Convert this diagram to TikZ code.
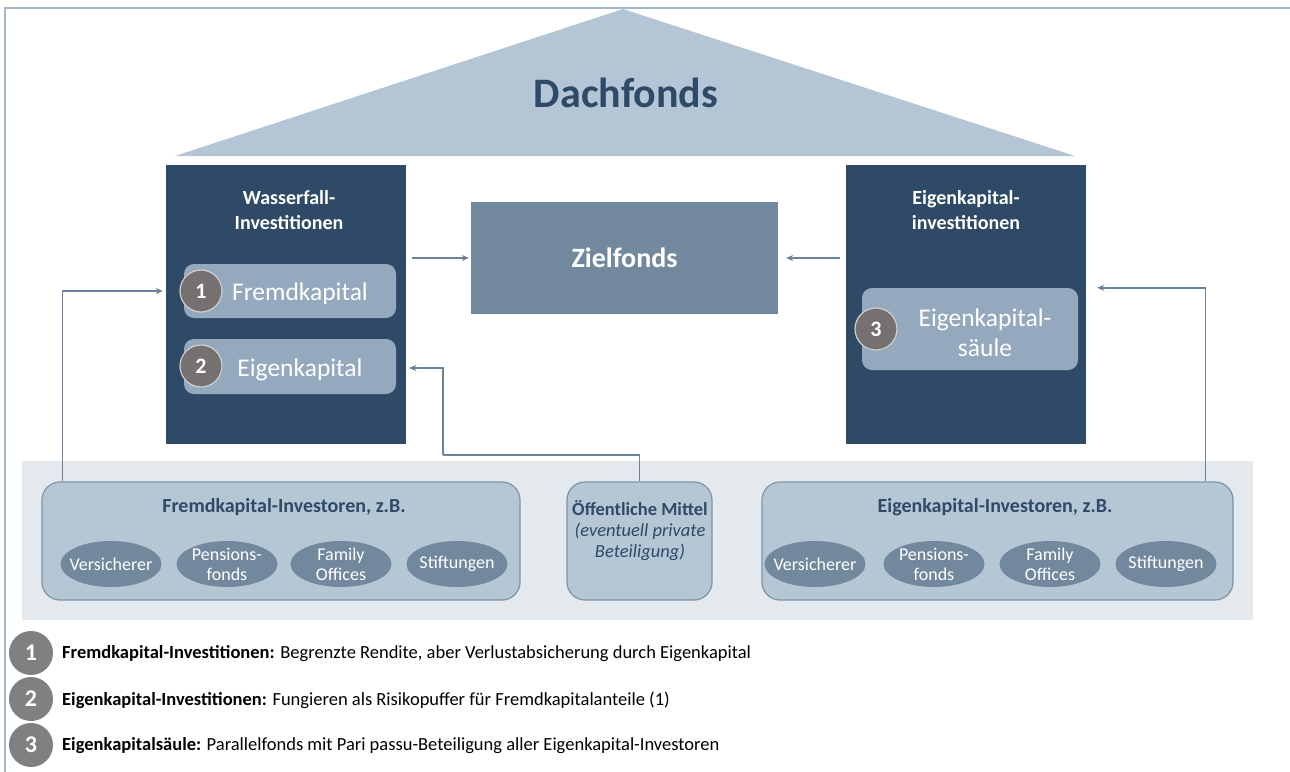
\documentclass[tikz,border=0pt]{standalone}
\usepackage{fontspec}
\setmainfont{Carlito}
\usetikzlibrary{shapes.geometric,arrows.meta,calc}
\definecolor{navy}{HTML}{2E4A66}
\definecolor{roof}{HTML}{B4C6D6}
\definecolor{pill}{HTML}{94A9BD}
\definecolor{ziel}{HTML}{72899D}
\definecolor{band}{HTML}{E4E9EE}
\definecolor{invfill}{HTML}{B5C6D5}
\definecolor{invdraw}{HTML}{7D93A8}
\definecolor{conncol}{HTML}{6B8399}
\definecolor{badgecol}{HTML}{767171}
\definecolor{badgeedge}{HTML}{D0CECE}
\definecolor{legcol}{HTML}{808080}
\definecolor{framecol}{HTML}{A5B6C8}
\tikzset{
  darkbox/.style={fill=navy, draw=none, inner sep=0pt},
  boxtitle/.style={text=white, font=\fontsize{20}{25}\selectfont\bfseries, align=center, inner sep=0pt},
  pillbox/.style={fill=pill, rounded corners=10pt, inner sep=0pt},
  pilltext/.style={text=white, font=\fontsize{25.5}{30}\selectfont, align=center, inner sep=0pt},
  badge/.style={circle, fill=badgecol, draw=badgeedge, line width=1.2pt, minimum size=42pt, inner sep=0pt, text=white, font=\fontsize{22}{22}\selectfont\bfseries},
  conn/.style={draw=conncol, line width=1.6pt, -{Stealth[length=7pt,width=6pt]}},
  connline/.style={draw=conncol, line width=1.6pt},
  invbox/.style={fill=invfill, draw=invdraw, line width=1.2pt, rounded corners=18pt, inner sep=0pt},
  invtitle/.style={text=navy, font=\fontsize{20}{22}\selectfont\bfseries, inner sep=0pt},
  oval/.style={ellipse, fill=ziel, draw=none, minimum width=101pt, minimum height=46pt, inner sep=0pt},
  ovaltext/.style={inner sep=0pt, text=white, align=center, font=\fontsize{18}{20}\selectfont},
  legcircle/.style={circle, fill=legcol, minimum size=44pt, inner sep=0pt, text=white, font=\fontsize{24}{24}\selectfont\bfseries},
  legtext/.style={anchor=west, inner sep=0pt, font=\fontsize{18.5}{20}\selectfont}
}
\begin{document}
\begin{tikzpicture}[x=1pt,y=-1pt]
\useasboundingbox (0,0) rectangle (1290,771);
% frame
\draw[framecol, line width=2pt] (5,775) -- (5,8) -- (1295,8);
% roof
\fill[roof] (175,156) -- (623,9) -- (1075,156) -- cycle;
\node[text=navy, font=\fontsize{42}{42}\selectfont\bfseries, inner sep=0pt] (dach) at (626,93) {Dachfonds};
% bottom band
\fill[band] (22,461) rectangle (1253,620);
% left column
\node[darkbox, minimum width=240pt, minimum height=279pt] (left) at (286,304.5) {};
\node[boxtitle] (lefttitle) at (289,210) {Wasserfall-\\Investitionen};
\node[pillbox, minimum width=212pt, minimum height=54pt] (fk) at (290,291) {};
\node[pilltext] (fktext) at (300,293.5) {Fremdkapital};
\node[badge] (b1) at (201,291) {1};
\node[pillbox, minimum width=212pt, minimum height=55pt] (ek) at (290,366.5) {};
\node[pilltext] (ektext) at (300,370) {Eigenkapital};
\node[badge] (b2) at (201,366) {2};
% Zielfonds
\node[fill=ziel, minimum width=307pt, minimum height=112pt, inner sep=0pt, text=white, font=\fontsize{28}{28}\selectfont\bfseries] (ziel) at (624.5,258) {Zielfonds};
% right column
\node[darkbox, minimum width=240pt, minimum height=279pt] (right) at (966,304.5) {};
\node[boxtitle] (righttitle) at (966,210) {Eigenkapital-\\investitionen};
\node[pillbox, minimum width=216pt, minimum height=82pt] (eks) at (970,329) {};
\node[pilltext] (ekstext) at (985,333) {Eigenkapital-\\säule};
\node[badge] (b3) at (876,329) {3};
% arrows to Zielfonds
\coordinate (la) at ($(left.east)+(6,0)$);
\draw[conn] (la |- ziel.center) -- ([xshift=-2pt]ziel.west);
\coordinate (ra) at ($(right.west)+(-6,0)$);
\draw[conn] (ra |- ziel.center) -- ([xshift=8pt]ziel.east);
% investor boxes
\node[invbox, minimum width=478pt, minimum height=118pt] (fki) at (281,541) {};
\node[invtitle] (fkititle) at (284,507) {Fremdkapital-Investoren, z.B.};
\node[oval] (f1) at (111,564) {};
\node[ovaltext] (f1t) at (f1) {Versicherer};
\node[oval] (f2) at (227,564) {};
\node[ovaltext] (f2t) at (f2) {Pensions-\\fonds};
\node[oval] (f3) at (341,564) {};
\node[ovaltext] (f3t) at (f3) {Family\\Offices};
\node[oval] (f4) at (457,564) {};
\node[ovaltext] (f4t) at (f4) {Stiftungen};
\node[invbox, minimum width=145pt, minimum height=118pt] (oem) at (639.5,541) {};
\node[text=navy, align=center, inner sep=0pt, font=\fontsize{18.5}{21}\selectfont, anchor=north] (oemtext) at (640,500) {\textbf{Öffentliche Mittel}\\\textit{(eventuell private}\\\textit{Beteiligung)}};
\node[invbox, minimum width=471pt, minimum height=118pt] (eki) at (997.5,541) {};
\node[invtitle] (ekititle) at (995,507) {Eigenkapital-Investoren, z.B.};
\node[oval] (e1) at (815,564) {};
\node[ovaltext] (e1t) at (e1) {Versicherer};
\node[oval] (e2) at (934,564) {};
\node[ovaltext] (e2t) at (e2) {Pensions-\\fonds};
\node[oval] (e3) at (1050,564) {};
\node[ovaltext] (e3t) at (e3) {Family\\Offices};
\node[oval] (e4) at (1166,564) {};
\node[ovaltext] (e4t) at (e4) {Stiftungen};
% connectors from investors
\coordinate (c1) at ($(fki.north west)+(21,0)$);
\coordinate (t1) at ($(left.west |- fk.center)+(-3,0)$);
\draw[conn] (c1) |- (t1);
\coordinate (c2) at (443,455);
\coordinate (t2) at ($(left.east |- 0,368)+(3,0)$);
\draw[connline] (oem.north) |- (c2);
\draw[conn] (c2) |- (t2);
\coordinate (c3) at ($(eki.north east)+(-28,0)$);
\coordinate (t3) at ($(right.east |- eks.north)+(11,0)$);
\draw[conn] (c3) |- (t3);
% legend
\node[legcircle] (l1) at (31,653) {1};
\node[legcircle] (l2) at (31,699) {2};
\node[legcircle] (l3) at (31,745) {3};
\node[legtext] (lt1) at (62,654) {\textbf{Fremdkapital-Investitionen:} Begrenzte Rendite, aber Verlustabsicherung durch Eigenkapital};
\node[legtext] (lt2) at (62,700) {\textbf{Eigenkapital-Investitionen:} Fungieren als Risikopuffer für Fremdkapitalanteile (1)};
\node[legtext] (lt3) at (62,746) {\textbf{Eigenkapitalsäule:} Parallelfonds mit Pari passu-Beteiligung aller Eigenkapital-Investoren};
\end{tikzpicture}
\end{document}
